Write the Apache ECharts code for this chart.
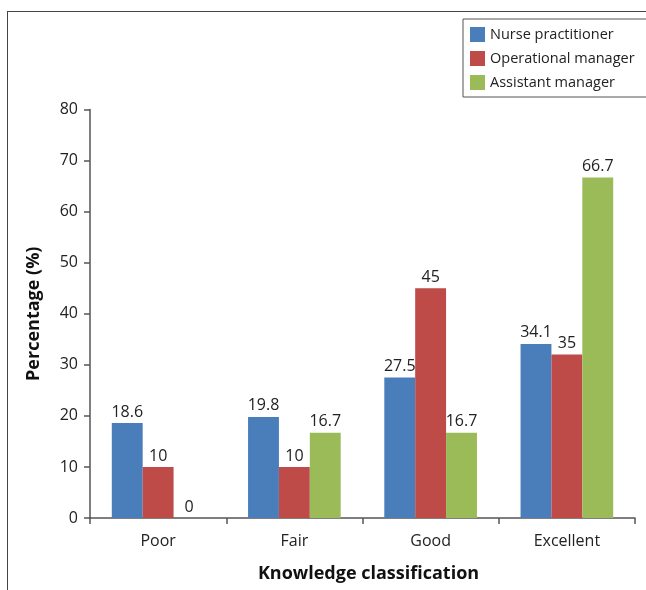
<!DOCTYPE html>
<html>
<head>
<meta charset="utf-8">
<script src="https://cdn.jsdelivr.net/npm/echarts@6/dist/echarts.min.js"></script>
<style>
  html, body { margin: 0; padding: 0; background: #fff; }
  #wrap { position: relative; width: 646px; height: 590px; overflow: hidden; }
  #frame { position: absolute; left: 7px; top: 11px; width: 700px; height: 700px;
           border-top: 1.5px solid #444; border-left: 1.5px solid #444; }
  #chart { position: absolute; left: 0; top: 0; width: 646px; height: 590px; }
</style>
</head>
<body>
<div id="wrap">
  <div id="frame"></div>
  <div id="chart"></div>
</div>
<script>
const categories = ['Poor', 'Fair', 'Good', 'Excellent']
const seriesNames = ['Nurse practitioner', 'Operational manager', 'Assistant manager']
const nurseValues = [18.6, 19.8, 27.5, 34.1]
const operationalValues = [10, 10, 45, 32]
const assistantValues = [0, 16.7, 16.7, 66.7]
// printed labels (the 'Excellent' operational bar is labelled 35 but drawn lower)
const nurseLabels = ['18.6', '19.8', '27.5', '34.1']
const operationalLabels = ['10', '10', '45', '35']
const assistantLabels = ['0', '16.7', '16.7', '66.7']
const yTicks = [0, 10, 20, 30, 40, 50, 60, 70, 80]
const colors = ['#4a7ebb', '#be4b48', '#9bbb59']

const font = '"Open Sans", "Noto Sans", sans-serif'

function barSeries(name, values, labels, color) {
  return {
    name: name,
    type: 'bar',
    data: values,
    barGap: 0,
    barCategoryGap: '32%',
    itemStyle: { color: color },
    label: {
      show: true,
      position: 'top',
      distance: 3,
      color: '#222',
      fontFamily: font,
      fontSize: 16,
      formatter: p => labels[p.dataIndex]
    }
  }
}

const myChart = echarts.init(document.getElementById('chart'))
myChart.setOption({
  animation: false,
  textStyle: { fontFamily: font },
  grid: { left: 90, right: 11, top: 109.5, bottom: 72, containLabel: false },
  legend: {
    orient: 'vertical',
    left: 463,
    top: 19,
    itemWidth: 15,
    itemHeight: 15,
    itemGap: 9,
    icon: 'rect',
    padding: [8, 15, 7, 7],
    borderColor: '#555',
    borderWidth: 1,
    data: seriesNames,
    textStyle: { fontSize: 14.5, color: '#222', fontFamily: font }
  },
  xAxis: {
    type: 'category',
    data: categories,
    name: 'Knowledge classification',
    nameLocation: 'middle',
    nameGap: 47,
    nameTextStyle: { fontSize: 18, fontWeight: 'bold', color: '#111', fontFamily: font, padding: [0, 0, 0, 12] },
    axisLine: { lineStyle: { color: '#555', width: 1.5 } },
    axisTick: { show: true, length: 6, inside: false, lineStyle: { color: '#555', width: 1.5 } },
    axisLabel: { fontSize: 16, color: '#222', margin: 15 }
  },
  yAxis: {
    type: 'value',
    min: yTicks[0],
    max: yTicks[yTicks.length - 1],
    interval: 10,
    name: 'Percentage (%)',
    nameLocation: 'middle',
    nameGap: 47,
    nameTextStyle: { fontSize: 18, fontWeight: 'bold', color: '#111', fontFamily: font },
    axisLine: { show: true, lineStyle: { color: '#555', width: 1.5 } },
    axisTick: { show: true, length: 6, lineStyle: { color: '#555', width: 1.5 } },
    axisLabel: { fontSize: 16, color: '#222', margin: 12 },
    splitLine: { show: false }
  },
  series: [
    barSeries(seriesNames[0], nurseValues, nurseLabels, colors[0]),
    barSeries(seriesNames[1], operationalValues, operationalLabels, colors[1]),
    barSeries(seriesNames[2], assistantValues, assistantLabels, colors[2])
  ]
})
</script>
</body>
</html>
